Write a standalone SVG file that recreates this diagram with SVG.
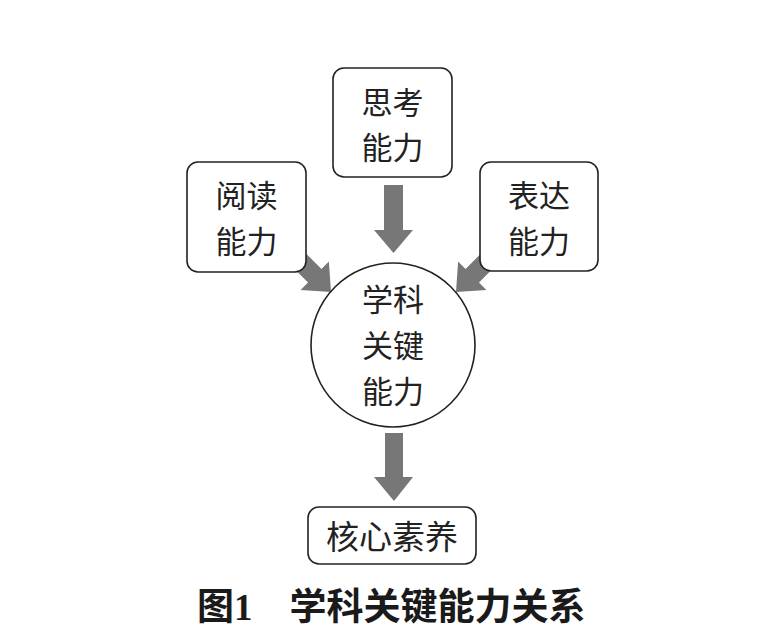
<svg xmlns="http://www.w3.org/2000/svg" width="760" height="641" viewBox="0 0 760 641">
<style>
.box{fill:#fff;stroke:#222;stroke-width:1.6}
.arr{fill:#777}
.t{font-family:"Noto Sans CJK SC","Noto Sans",sans-serif;fill:#222;text-anchor:middle}
.cap{font-family:"Noto Sans CJK SC","Noto Sans",sans-serif;font-weight:bold;fill:#1a1a1a;font-size:37px}
</style>
<defs>
<path id="arrowShape" d="M-9.5,-70 H9.5 V-23 H20 L0,0 L-20,-23 H-9.5 Z"/>
</defs>
<rect width="760" height="641" fill="#fff"/>
<g id="connectors">
<path class="arr" d="M384,185 H403 V230 H413 L393.5,253 L374,230 H384 Z"/>
<use href="#arrowShape" class="arr" transform="translate(331,292) rotate(-45)"/>
<use href="#arrowShape" class="arr" transform="translate(456,292) rotate(45)"/>
<path class="arr" d="M385,433 H403 V477 H413 L394,501 L374,477 H385 Z"/>
</g>
<g id="think">
<rect class="box" x="333" y="68" width="119" height="109" rx="11"/>
<text class="t" x="392.5" y="114" font-size="31">思考</text>
<text class="t" x="392.5" y="159" font-size="31">能力</text>
</g>
<g id="read">
<rect class="box" x="187" y="162" width="119" height="110" rx="11"/>
<text class="t" x="246.5" y="207" font-size="31">阅读</text>
<text class="t" x="246.5" y="253" font-size="31">能力</text>
</g>
<g id="express">
<rect class="box" x="480" y="162" width="118" height="109" rx="11"/>
<text class="t" x="539" y="207" font-size="31">表达</text>
<text class="t" x="539" y="253" font-size="31">能力</text>
</g>
<g id="key">
<circle class="box" cx="393" cy="345" r="82"/>
<text class="t" x="393" y="311" font-size="31">学科</text>
<text class="t" x="393" y="357" font-size="31">关键</text>
<text class="t" x="393" y="403" font-size="31">能力</text>
</g>
<g id="core">
<rect class="box" x="308" y="507" width="168" height="57" rx="11"/>
<text class="t" x="392" y="549" font-size="33">核心素养</text>
</g>
<text class="cap" x="197" y="620">图<tspan font-family="Liberation Serif, serif">1</tspan>　学科关键能力关系</text>
</svg>
